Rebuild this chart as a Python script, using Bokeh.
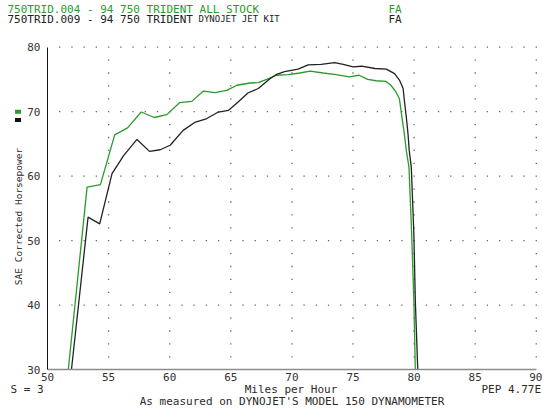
from bokeh.plotting import figure
from bokeh.models import Label, FixedTicker, Range1d
from bokeh.embed import file_html
from bokeh.resources import INLINE
import math

# ---- data ----
stock_name = "750TRID.004 - 94 750 TRIDENT ALL STOCK"
jet_name_a = "750TRID.009 - 94 750 TRIDENT"
jet_name_b = "DYNOJET JET KIT"

stock_mph = [51.70, 53.24, 54.33, 55.50, 56.55, 57.67, 58.73, 59.77, 60.80, 61.80,
             62.76, 63.70, 64.67, 65.50, 66.57, 67.25, 67.93, 68.75, 69.70, 70.65,
             71.50, 72.55, 73.50, 74.70, 75.50, 76.20, 76.90, 77.70, 78.10, 78.50,
             78.80, 79.00, 79.20, 79.36, 79.58, 79.80, 79.98, 80.10]
stock_hp = [30.0, 58.3, 58.7, 66.4, 67.5, 69.95, 69.1, 69.55, 71.4, 71.6,
            73.2, 72.95, 73.3, 74.1, 74.45, 74.5, 75.0, 75.65, 75.75, 76.0,
            76.3, 76.0, 75.8, 75.4, 75.65, 75.0, 74.8, 74.7, 74.1, 73.1,
            72.0, 69.2, 66.6, 64.0, 61.4, 51.1, 40.7, 30.0]

jet_mph = [51.96, 53.32, 54.27, 55.28, 56.23, 57.32, 58.35, 59.22, 60.04, 61.10,
           62.10, 63.00, 63.98, 64.80, 65.60, 66.40, 67.25, 68.20, 68.75, 69.40,
           70.50, 71.33, 72.40, 73.50, 74.20, 75.00, 75.70, 76.80, 77.73, 78.40,
           78.80, 79.10, 79.20, 79.36, 79.50, 79.60, 79.77, 79.98, 80.10, 80.30]
jet_hp = [30.0, 53.65, 52.6, 60.4, 63.2, 65.7, 63.85, 64.1, 64.8, 67.1,
          68.4, 68.9, 69.95, 70.2, 71.5, 72.9, 73.6, 75.1, 75.8, 76.2,
          76.6, 77.25, 77.35, 77.6, 77.35, 76.95, 77.05, 76.7, 76.6, 75.9,
          74.9, 73.6, 71.8, 69.2, 66.6, 64.0, 61.4, 51.1, 40.7, 30.0]

x_ticks = [50, 55, 60, 65, 70, 75, 80, 85, 90]
y_ticks = [30, 40, 50, 60, 70, 80]

# ---- layout: the plot frame covers the whole canvas ----
W, H = 542, 408
PX_PER_MPH = 12.22
PX_PER_HP = 6.45
X_AXIS_PX = 47.0     # page x of 50 mph
Y_TOP_PX = 46.7      # page y of 80 hp
X0 = 50 - X_AXIS_PX / PX_PER_MPH
X1 = X0 + W / PX_PER_MPH
Y1 = 80 + Y_TOP_PX / PX_PER_HP
Y0 = Y1 - H / PX_PER_HP

GREEN = "#2a9a2a"
BLACK = "#222222"
TXT = "#2a2a2a"
MONO = "DejaVu Sans Mono"

def px_x(page_x):
    return X0 + page_x / PX_PER_MPH

def px_y(page_y):
    return Y1 - page_y / PX_PER_HP

p = figure(width=W, height=H, output_backend="svg", toolbar_location=None,
           x_range=Range1d(X0, X1), y_range=Range1d(Y0, Y1), min_border=0)
p.outline_line_color = None
p.background_fill_color = "white"
p.border_fill_color = "white"
p.grid.visible = False

# axes, placed inside the canvas at the data origin
p.xaxis.fixed_location = y_ticks[0]
p.yaxis.fixed_location = x_ticks[0]
p.xaxis.bounds = (x_ticks[0], x_ticks[-1])
p.yaxis.bounds = (y_ticks[0], y_ticks[-1])
p.xaxis.ticker = FixedTicker(ticks=x_ticks)
p.yaxis.ticker = FixedTicker(ticks=y_ticks)
for ax in (p.xaxis[0], p.yaxis[0]):
    ax.major_tick_in = 0
    ax.major_tick_out = 0
    ax.minor_tick_in = 0
    ax.minor_tick_out = 0
    ax.major_label_text_font = MONO
    ax.major_label_text_font_size = "11px"
    ax.major_label_text_color = "#333333"
p.xaxis.axis_line_color = "#8c8c8c"
p.xaxis.axis_line_width = 1.5
p.xaxis.major_label_standoff = 3
p.yaxis.axis_line_color = "#111111"
p.yaxis.axis_line_width = 1
p.yaxis.major_label_standoff = 7

# dotted grid: dots every 1 mph on the 10-hp lines, every 2 hp on the 5-mph lines
gx, gy = [], []
for hp in y_ticks[1:]:
    for mph in range(x_ticks[0] + 1, x_ticks[-1] + 1):
        gx.append(mph)
        gy.append(hp)
for mph in x_ticks[1:]:
    for hp in range(y_ticks[0] + 2, y_ticks[-1], 2):
        if hp % 10:
            gx.append(mph)
            gy.append(hp)
p.scatter(gx, gy, marker="square", size=1.3, fill_color="#666666", line_color=None)

# curves
p.line(stock_mph, stock_hp, line_color=GREEN, line_width=1.3)
p.line(jet_mph, jet_hp, line_color=BLACK, line_width=1.3)

# legend swatches
p.rect([px_x(17.5)], [px_y(111.3)], width=6, height=4, width_units="screen",
       height_units="screen", fill_color=GREEN, line_color=None)
p.rect([px_x(17.5)], [px_y(119.5)], width=6, height=4, width_units="screen",
       height_units="screen", fill_color="#111111", line_color=None)

def lab(x, y, text, color=TXT, size="11px", font=MONO, align="left", angle=0.0):
    p.add_layout(Label(x=x, y=y, text=text, text_color=color, text_font_size=size,
                       text_font=font, text_align=align, text_baseline="middle",
                       angle=angle))

# header
lab(px_x(7), px_y(8.5), stock_name, GREEN)
lab(px_x(388), px_y(8.5), "FA", GREEN)
lab(px_x(7), px_y(18.5), jet_name_a, BLACK)
lab(px_x(198), px_y(18.7), jet_name_b, BLACK, size="9px")
lab(px_x(388), px_y(18.5), "FA", BLACK)

# y axis title
lab(px_x(18), px_y(216), "SAE Corrected Horsepower", TXT, size="9.5px",
    align="center", angle=math.pi / 2)

# bottom texts
lab(px_x(10), px_y(388.5), "S = 3")
lab(px_x(290.5), px_y(388.5), "Miles per Hour", align="center")
lab(px_x(481), px_y(388.5), "PEP 4.77E")
lab(px_x(291.5), px_y(400.5), "As measured on DYNOJET'S MODEL 150 DYNAMOMETER", align="center")

open("out.html", "w").write(file_html(p, INLINE))
